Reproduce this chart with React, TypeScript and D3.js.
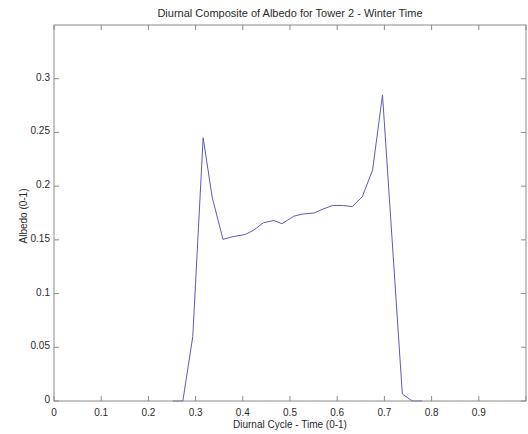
import React from "react";
import * as d3 from "d3";

// Diurnal composite albedo, tower 2, winter
const timeValues = [0.252, 0.273, 0.294, 0.316, 0.335, 0.358, 0.379, 0.405, 0.423, 0.444, 0.466, 0.483, 0.508, 0.526, 0.551, 0.572, 0.590, 0.611, 0.632, 0.653, 0.675, 0.696, 0.738, 0.759, 0.78];
const albedoValues = [0, 0, 0.060, 0.245, 0.19, 0.1505, 0.153, 0.155, 0.159, 0.166, 0.168, 0.165, 0.172, 0.174, 0.175, 0.179, 0.182, 0.182, 0.181, 0.190, 0.215, 0.285, 0.0065, 0, 0];

const xTicks = [0, 0.1, 0.2, 0.3, 0.4, 0.5, 0.6, 0.7, 0.8, 0.9, 1];
const xTickLabels = ["0", "0.1", "0.2", "0.3", "0.4", "0.5", "0.6", "0.7", "0.8", "0.9", ""];
const yTicks = [0, 0.05, 0.1, 0.15, 0.2, 0.25, 0.3];

const W = 528;
const H = 434;
const left = 54;
const right = 526;
const top = 25;
const bottom = 401;

export default function App() {
  const x = d3.scaleLinear().domain([0, 1]).range([left, right]);
  const y = d3.scaleLinear().domain([0, 0.35]).range([bottom, top]);
  const points = timeValues.map((t, i) => [t, albedoValues[i]] as [number, number]);
  const line = d3
    .line<[number, number]>()
    .x((d) => x(d[0]))
    .y((d) => y(d[1]));

  const axisColor = "#8a8a8a";
  const textColor = "#2a2a2a";
  const font = "'Liberation Sans', Arial, sans-serif";
  const tickLen = 5;

  return (
    <svg
      width={W}
      height={H}
      style={{ position: "absolute", left: 0, top: 0, display: "block", background: "#fff" }}
      fontFamily={font}
    >
      <rect x={0} y={0} width={W} height={H} fill="#fff" />
      <path d={line(points) || ""} fill="none" stroke="#5b5bb8" strokeWidth={1} />
      {/* box */}
      <rect x={left} y={top} width={right - left} height={bottom - top} fill="none" stroke={axisColor} strokeWidth={1} />
      {xTicks.map((t, i) => (
        <g key={"x" + t}>
          <line x1={x(t)} x2={x(t)} y1={bottom} y2={bottom - tickLen} stroke={axisColor} />
          <line x1={x(t)} x2={x(t)} y1={top} y2={top + tickLen} stroke={axisColor} />
          <text x={x(t)} y={416} textAnchor="middle" fontSize={10} fill={textColor}>
            {xTickLabels[i]}
          </text>
        </g>
      ))}
      {yTicks.map((t) => (
        <g key={"y" + t}>
          <line x1={left} x2={left + tickLen} y1={y(t)} y2={y(t)} stroke={axisColor} />
          <line x1={right} x2={right - tickLen} y1={y(t)} y2={y(t)} stroke={axisColor} />
          <text x={50} y={y(t) + 2} textAnchor="end" fontSize={10} fill={textColor}>
            {String(t)}
          </text>
        </g>
      ))}
      <text x={(left + right) / 2} y={17} textAnchor="middle" fontSize={11} fill={textColor}>
        Diurnal Composite of Albedo for Tower 2 - Winter Time
      </text>
      <text x={(left + right) / 2} y={428} textAnchor="middle" fontSize={10} fill={textColor}>
        Diurnal Cycle - Time (0-1)
      </text>
      <text
        transform={`translate(27, ${(top + bottom) / 2 + 3}) rotate(-90)`}
        textAnchor="middle"
        fontSize={10}
        fill={textColor}
      >
        Albedo (0-1)
      </text>
    </svg>
  );
}
